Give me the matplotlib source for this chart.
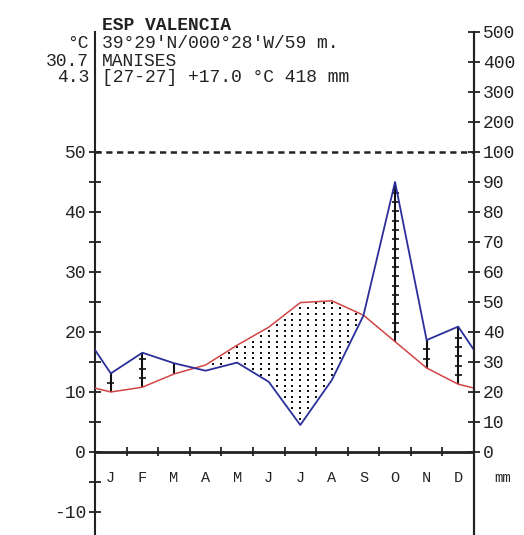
import numpy as np
import matplotlib
matplotlib.use("Agg")
from matplotlib import pyplot as plt

# Walter-Lieth climate diagram, Valencia / Manises
months = ['J', 'F', 'M', 'A', 'M', 'J', 'J', 'A', 'S', 'O', 'N', 'D']
temp = [10.0, 10.8, 13.0, 14.5, 17.8, 20.8, 24.9, 25.2, 22.8, 18.4, 14.0, 11.3]   # degC
prec = [26.2, 33.1, 29.6, 27.1, 29.8, 23.4, 9.0, 24.0, 45.5, 90.0, 37.3, 41.8]    # mm

title = "ESP VALENCIA"
header = ["39°29'N/000°28'W/59 m.", "MANISES", "[27-27] +17.0 °C 418 mm"]
left_header = ["°C", "30.7", "4.3"]

prec_ticks = [0, 10, 20, 30, 40, 50, 60, 70, 80, 90, 100, 200, 300, 400, 500]


def prec_scale(p):
    # 20 mm = 10 degC up to 100 mm, above that 200 mm = 10 degC
    p = np.asarray(p, dtype=float)
    return np.where(p <= 100, p / 2.0, 50 + (p - 100) / 20.0)


W, H = 524, 535
fig = plt.figure(figsize=(W / 100, H / 100), dpi=100)
ax = fig.add_axes([95 / W, 0, 379 / W, (H - 32) / H])
ax.set_xlim(0, 12)
ax.set_ylim((452 - H) / 6, 70)

ink = '#222222'
mono = 'Liberation Mono'

# wrap Dec / Jan round the edges so the lines reach both axes
xm = np.arange(12) + 0.5
xw = np.concatenate([[-0.5], xm, [12.5]])
tw = np.concatenate([[temp[-1]], temp, [temp[0]]])
pw = prec_scale(np.concatenate([[prec[-1]], prec, [prec[0]]]))

# arid period: dots
xs = np.arange(0, 12.001, 0.25)
tx = np.interp(xs, xw, tw)
px = np.interp(xs, xw, pw)
dx, dy = [], []
for x, t, p in zip(xs, tx, px):
    if t > p:
        for y in np.arange(0, t, 0.92):
            if p + 0.3 < y < t - 0.2:
                dx.append(x)
                dy.append(y)
ax.scatter(dx, dy, s=4, marker='s', color='#111111', linewidths=0, zorder=2)

# humid period: vertical bars with small cross ticks
ps = prec_scale(prec)
for x, t, p in zip(xm, temp, ps):
    if p > t:
        ax.vlines(x, t, p, color='#111111', lw=1.5, zorder=2)
        ty = np.arange(t + 1.55, p - 0.3, 1.55)
        ax.hlines(ty, x - 0.11, x + 0.11, color='#111111', lw=1.2, zorder=2)

ax.plot(xw, tw, color='#d04545', lw=1.1, zorder=3)
ax.plot(xw, pw, color='#2b2f9a', lw=1.3, zorder=4)

# zero line, 100 mm dashed line, month ticks
ax.hlines(0, 0, 12, color=ink, lw=2, zorder=5)
ax.hlines(50, 0, 12, color=ink, lw=1.8, linestyles=(0, (2.5, 1.8)), zorder=5)
ax.vlines(np.arange(1, 12), -0.7, 0.9, color=ink, lw=1.3, zorder=5)

for x, m in zip(xm, months):
    ax.text(x, -4.3, m, ha='center', va='center', fontsize=11,
            family=mono, color=ink)
ax.text(12.65, -4.3, 'mm', ha='left', va='center', fontsize=10,
        family=mono, color=ink, clip_on=False)

# axes
for s in ['top', 'bottom']:
    ax.spines[s].set_visible(False)
for s in ['left', 'right']:
    ax.spines[s].set_linewidth(1.5)
    ax.spines[s].set_color(ink)
ax.set_xticks([])
ax.set_yticks(np.arange(-10, 51, 5))
ax.set_yticklabels([str(v) if v % 10 == 0 else '' for v in np.arange(-10, 51, 5)])
ax.tick_params(axis='y', which='both', direction='inout', length=9, width=1.3,
               color=ink, labelsize=13, labelcolor=ink, pad=2)
for lab in ax.get_yticklabels():
    lab.set_family(mono)

ax2 = ax.twinx()
ax2.set_ylim(ax.get_ylim())
ax2.set_position(ax.get_position())
for s in ['top', 'bottom', 'left']:
    ax2.spines[s].set_visible(False)
ax2.spines['right'].set_linewidth(1.5)
ax2.spines['right'].set_color(ink)
ax2.set_yticks(prec_scale(prec_ticks))
ax2.set_yticklabels([str(v) for v in prec_ticks])
ax2.tick_params(axis='y', direction='inout', length=9, width=1.3, color=ink,
                labelsize=13, labelcolor=ink, pad=2)
for lab in ax2.get_yticklabels():
    lab.set_family(mono)

# header text
fig.text(102 / W, 1 - 26 / H, title, ha='left', va='center', fontsize=13,
         family=mono, weight='bold', color=ink)
for i, (line, lh) in enumerate(zip(header, left_header)):
    y = 1 - [44, 61, 78][i] / H
    fig.text(102 / W, y, line, ha='left', va='center', fontsize=13,
             family=mono, color=ink)
    fig.text(89 / W, y, lh, ha='right', va='center', fontsize=13,
             family=mono, color=ink)

fig.savefig('out.png', dpi=100)
